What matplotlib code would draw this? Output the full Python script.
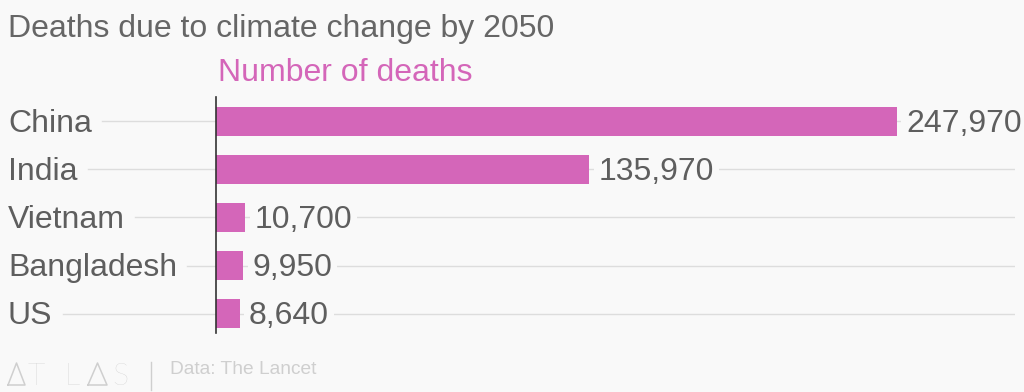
import matplotlib
matplotlib.use("Agg")
import matplotlib.pyplot as plt
from matplotlib.lines import Line2D
from matplotlib.transforms import offset_copy

categories = ["China", "India", "Vietnam", "Bangladesh", "US"]
deaths = [247970, 135970, 10700, 9950, 8640]
title = "Deaths due to climate change by 2050"
subtitle = "Number of deaths"
source = "Data: The Lancet"

plt.rcParams['font.family'] = ['Liberation Sans', 'DejaVu Sans']
BG = "#f9f9f9"
BAR = "#d466b9"
TXT = "#5e5e5e"
FS = 23

W, H = 1024, 392
fig = plt.figure(figsize=(W / 100, H / 100), dpi=100, facecolor=BG)
ax = fig.add_axes([216 / W, 1 - 333 / H, (1015 - 216) / W, (333 - 97) / H])
ax.set_facecolor(BG)

ypos = list(range(len(categories)))
ax.set_xlim(0, 291000)
ax.set_ylim(4.4, -0.5)

for y in ypos:
    ax.axhline(y, color="#dddddd", lw=1, zorder=0)
ax.barh(ypos, deaths, height=0.6, color=BAR, zorder=2)

BASE_OFF = -10.5 * 72 / 100  # baseline 10.5 px below bar centre (points)
for y, v in zip(ypos, deaths):
    ax.annotate(f"{v:,}", (v, y), xytext=(6.5, BASE_OFF), textcoords="offset points",
                va="baseline", ha="left", fontsize=FS, color=TXT, zorder=3,
                bbox=dict(boxstyle="square,pad=0.15", fc=BG, ec="none"))

ax.set_xticks([])
ax.set_yticks([])
for s in ["top", "right", "bottom"]:
    ax.spines[s].set_visible(False)
ax.spines["left"].set_color("#333333")
ax.spines["left"].set_linewidth(1.2)
ax.spines["left"].set_zorder(4)

# category labels and leader lines
fig.canvas.draw()
renderer = fig.canvas.get_renderer()
trans = ax.transData
for y, c in zip(ypos, categories):
    yf = fig.transFigure.inverted().transform(trans.transform((0, y)))[1]
    t = fig.text(8 / W, yf - 10.5 / H, c, fontsize=FS, color=TXT, va="baseline", ha="left")
    bb = t.get_window_extent(renderer)
    x0 = (bb.x1 + 10) / W
    fig.add_artist(Line2D([x0, 216 / W], [yf, yf], transform=fig.transFigure,
                          color="#dddddd", lw=1, zorder=0))

fig.text(8 / W, 1 - 37 / H, title, fontsize=FS, color="#666666", va="baseline", ha="left")
fig.text(218 / W, 1 - 81 / H, subtitle, fontsize=FS, color=BAR, va="baseline", ha="left")

# footer logo
LOGO = "#cfcfcf"
def tri(x0, x1):
    fig.add_artist(Line2D([x0 / W, (x0 + x1) / 2 / W, x1 / W, x0 / W],
                          [1 - 385 / H, 1 - 363 / H, 1 - 385 / H, 1 - 385 / H],
                          transform=fig.transFigure, color=LOGO, lw=1.1))
tri(8, 25)
tri(88, 107)
for xx, ch in [(28, "T"), (64, "L"), (112, "S")]:
    fig.text(xx / W, 1 - 385 / H, ch, fontsize=22, color=LOGO, va="baseline", ha="left",
             fontweight="light", family=["Lato", "Liberation Sans"])
fig.add_artist(Line2D([151 / W, 151 / W], [1 - 362 / H, 1 - 390 / H], transform=fig.transFigure,
                      color=LOGO, lw=1))
fig.text(170 / W, 1 - 369 / H, source, fontsize=13.8, color="#cfcfcf", va="center", ha="left")

fig.savefig("out.png", dpi=100, facecolor=BG)
